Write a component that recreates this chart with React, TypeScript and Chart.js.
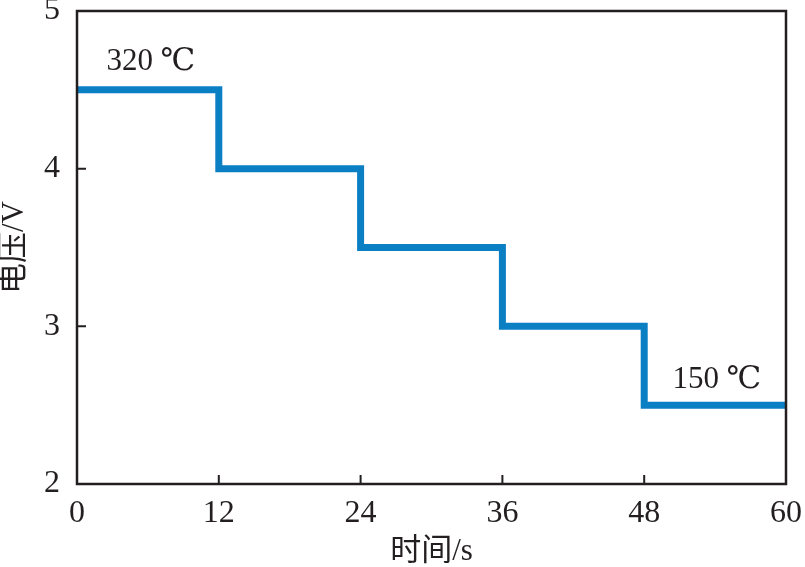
import React, { useEffect, useRef } from "react";
import { Chart, registerables } from "chart.js";

Chart.register(...registerables);

const times = [0, 12, 24, 36, 48, 60];
const voltages = [4.5, 4.0, 3.5, 3.0, 2.5, 2.5];
const xTicks = [0, 12, 24, 36, 48, 60];
const yTicks = [2, 3, 4, 5];
const annotations = [
  { text: "320 ℃", x: 2.5, y: 4.68 },
  { text: "150 ℃", x: 50.4, y: 2.66 },
];

const FONT = '"Liberation Serif", "DejaVu Serif", "Noto Sans CJK SC", serif';
const INK = "#231f20";
const BLUE = "#0b7fc4";

const framePlugin = {
  id: "frame",
  afterDatasetsDraw(chart: any) {
    const { ctx, chartArea: a, scales } = chart;
    ctx.save();
    ctx.strokeStyle = INK;
    ctx.lineWidth = 2.5;
    ctx.strokeRect(a.left, a.top, a.right - a.left, a.bottom - a.top);
    ctx.lineWidth = 2;
    const tl = 9;
    ctx.beginPath();
    for (const t of scales.x.ticks) {
      const px = scales.x.getPixelForValue(t.value);
      ctx.moveTo(px, a.bottom);
      ctx.lineTo(px, a.bottom - tl);
    }
    for (const t of scales.y.ticks) {
      const py = scales.y.getPixelForValue(t.value);
      ctx.moveTo(a.left, py);
      ctx.lineTo(a.left + tl, py);
    }
    ctx.stroke();
    ctx.fillStyle = INK;
    ctx.font = `31px ${FONT}`;
    ctx.textAlign = "left";
    ctx.textBaseline = "middle";
    for (const an of annotations) {
      ctx.fillText(an.text, scales.x.getPixelForValue(an.x), scales.y.getPixelForValue(an.y));
    }
    ctx.restore();
  },
};

export default function App() {
  const ref = useRef<HTMLCanvasElement>(null);
  useEffect(() => {
    const chart = new Chart(ref.current!, {
      type: "line",
      data: {
        datasets: [
          {
            data: times.map((t, i) => ({ x: t, y: voltages[i] })),
            borderColor: BLUE,
            borderWidth: 7,
            stepped: true,
            pointRadius: 0,
            fill: false,
            borderCapStyle: "butt",
            borderJoinStyle: "miter",
          },
        ],
      },
      options: {
        animation: false,
        responsive: false,
        devicePixelRatio: 1,
        layout: { padding: { top: 11, right: 19, left: 0, bottom: 0 } },
        plugins: { legend: { display: false }, tooltip: { enabled: false } },
        scales: {
          x: {
            type: "linear",
            min: 0,
            max: 60,
            afterBuildTicks: (s: any) => {
              s.ticks = xTicks.map((v) => ({ value: v }));
            },
            afterFit: (s: any) => {
              s.height = 83;
              s.paddingLeft = 0;
              s.paddingRight = 0;
            },
            grid: { display: true, drawOnChartArea: false, drawTicks: false },
            border: { display: false },
            ticks: { color: INK, font: { family: FONT, size: 32 }, padding: 10, maxRotation: 0, autoSkip: false },
            title: {
              display: true,
              text: "时间/s",
              color: INK,
              font: { family: FONT, size: 31, lineHeight: 1 },
              padding: 0,
            },
          },
          y: {
            type: "linear",
            min: 2,
            max: 5,
            afterBuildTicks: (s: any) => {
              s.ticks = yTicks.map((v) => ({ value: v }));
            },
            afterFit: (s: any) => {
              s.width = 77;
              s.paddingTop = 0;
              s.paddingBottom = 0;
            },
            grid: { display: true, drawOnChartArea: false, drawTicks: false },
            border: { display: false },
            ticks: { color: INK, font: { family: FONT, size: 32 }, padding: 17, autoSkip: false },
            title: {
              display: true,
              text: "电压/V",
              color: INK,
              font: { family: FONT, size: 31, lineHeight: 0.95 },
              padding: 0,
            },
          },
        },
      },
      plugins: [framePlugin],
    } as any);
    return () => chart.destroy();
  }, []);
  return (
    <div style={{ position: "fixed", left: 0, top: 0, width: 805, height: 567, background: "#fff" }}>
      <canvas ref={ref} width={805} height={567} style={{ width: 805, height: 567, display: "block" }} />
    </div>
  );
}
